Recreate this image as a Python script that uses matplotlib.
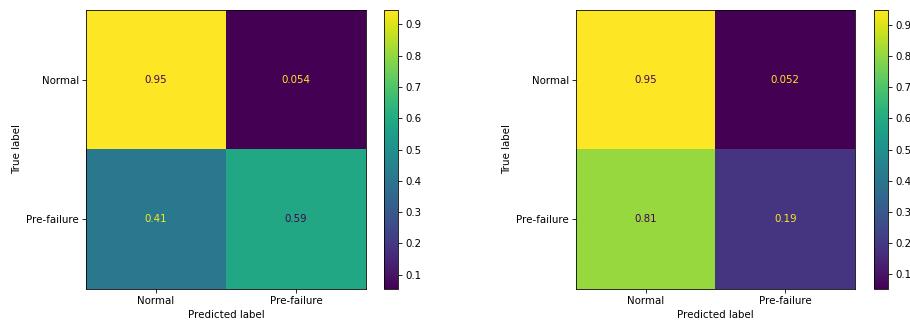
import numpy as np
from matplotlib import pyplot as plt

class_names = ["Normal", "Pre-failure"]

# normalized confusion matrices (rows = true label)
cm_left = np.array([[0.946, 0.054],
                    [0.41, 0.59]])
cm_right = np.array([[0.948, 0.052],
                     [0.81, 0.19]])

s = 0.74  # the reference looks like a downscaled render
plt.rcParams.update({
    'font.size': 10 * s,
    'xtick.major.size': 3.5 * s,
    'ytick.major.size': 3.5 * s,
    'xtick.major.width': 0.8 * s,
    'ytick.major.width': 0.8 * s,
    'xtick.major.pad': 3.5 * s,
    'ytick.major.pad': 3.5 * s,
    'axes.linewidth': 0.8 * s,
    'axes.labelpad': 4 * s,
})

W, H = 910, 323
fig = plt.figure(figsize=(W / 100, H / 100), dpi=100)


def px_box(x0, x1, y0, y1):
    return [x0 / W, (H - y1) / H, (x1 - x0) / W, (y1 - y0) / H]


def draw_cm(cm, ax, cax):
    cmap = plt.get_cmap('viridis')
    im = ax.imshow(cm, cmap=cmap, interpolation='nearest', aspect='auto')
    lo, hi = cm.min(), cm.max()
    thresh = (hi + lo) / 2.0
    for i in range(cm.shape[0]):
        for j in range(cm.shape[1]):
            color = cmap(0) if cm[i, j] >= thresh else cmap(256)
            ax.text(j, i, format(cm[i, j], '.2g'), ha='center', va='center', color=color)
    ax.set_xticks(range(len(class_names)))
    ax.set_yticks(range(len(class_names)))
    ax.set_xticklabels(class_names)
    ax.set_yticklabels(class_names)
    ax.set_xlabel("Predicted label")
    ax.set_ylabel("True label")
    cb = fig.colorbar(im, cax=cax)
    cb.outline.set_linewidth(0.8 * s)


ax1 = fig.add_axes(px_box(86, 366, 10, 289))
cax1 = fig.add_axes(px_box(384, 398, 10, 289))
ax2 = fig.add_axes(px_box(576, 855, 10, 289))
cax2 = fig.add_axes(px_box(874, 888, 10, 289))

draw_cm(cm_left, ax1, cax1)
draw_cm(cm_right, ax2, cax2)

plt.savefig("out.png", dpi=100)
